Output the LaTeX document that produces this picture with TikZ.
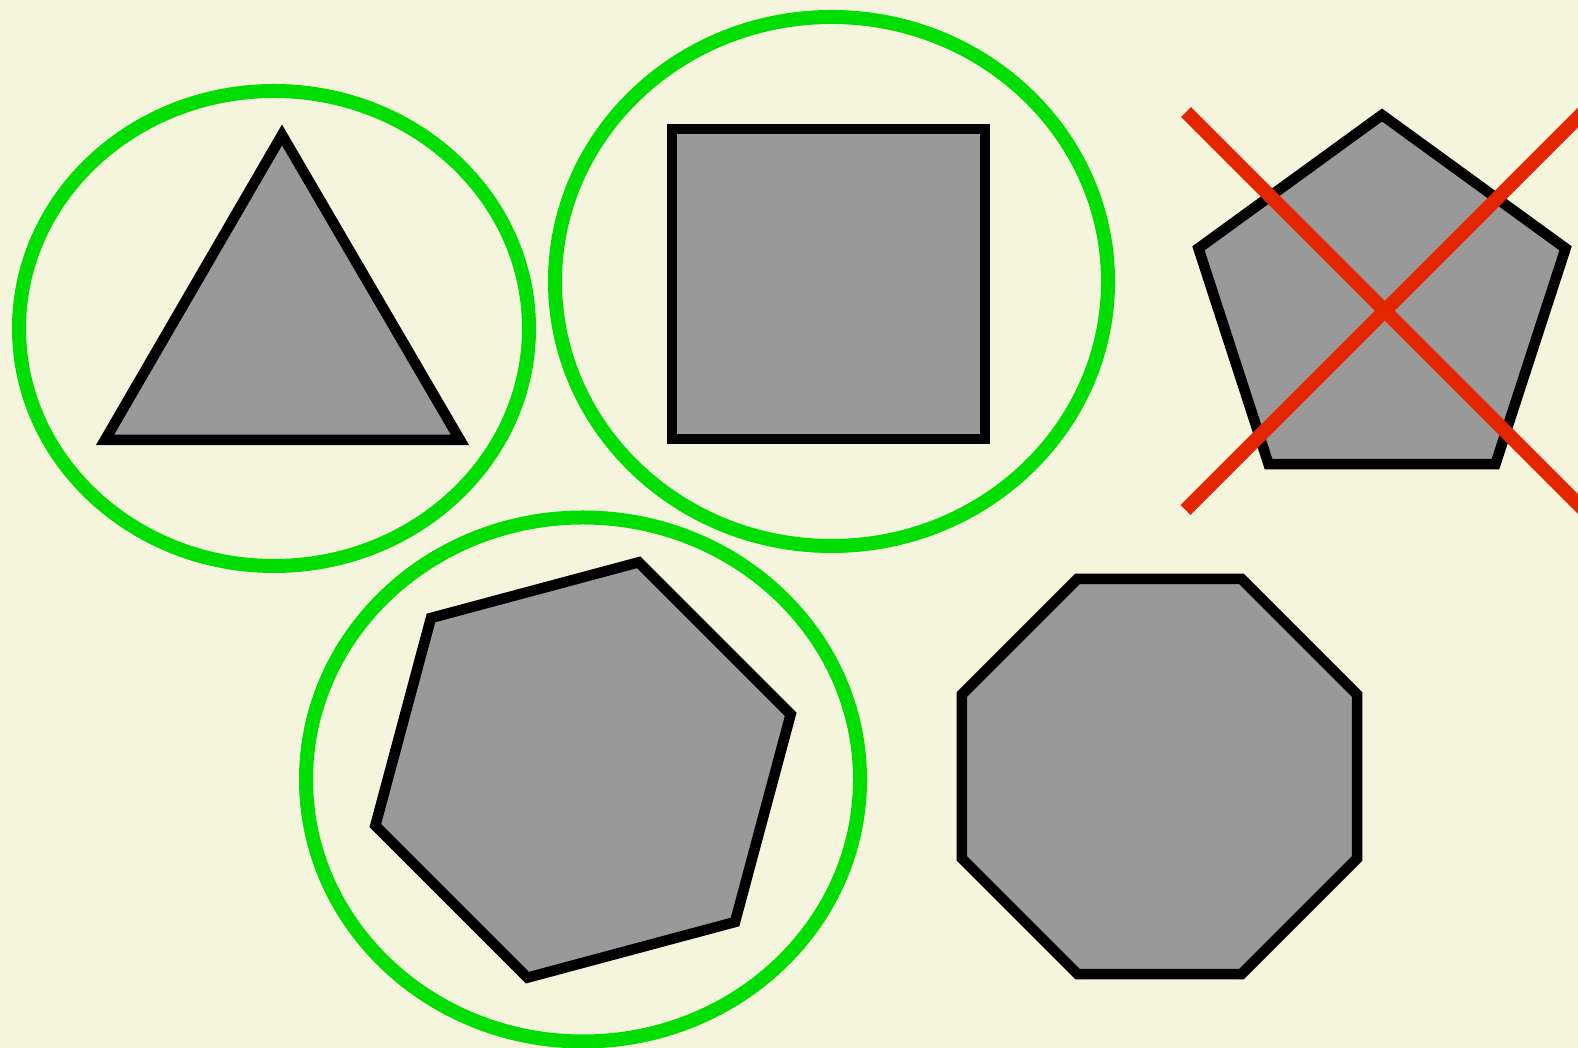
\documentclass[tikz,border=0pt]{standalone}
\usepackage{tikz}
\usetikzlibrary{calc}
\usepackage{xcolor}

\definecolor{paper}{RGB}{245,245,222}
\definecolor{shapegray}{RGB}{153,153,153}
\definecolor{okgreen}{RGB}{0,221,0}
\definecolor{nored}{RGB}{227,38,0}

\begin{document}
\begin{tikzpicture}[
    x=1pt, y=1pt,
    poly/.style={draw=black, fill=shapegray, line width=10.5pt, line join=miter},
    ring/.style={draw=okgreen, line width=14pt},
    cross/.style={draw=nored, line width=14pt, line cap=butt}
]

% Canvas
\fill[paper] (0,0) rectangle (1578,1048);
\clip (0,0) rectangle (1578,1048);

% Shapes
\draw[poly] (282,913) -- (105,608) -- (460,608) -- cycle;
\draw[poly] (672,919) rectangle (985,609);

\coordinate (pent) at (1382,740);
\draw[poly] ($(pent)+(90:193)$) \foreach \a in {162,234,306,18} { -- ($(pent)+(\a:193)$) } -- cycle;

\coordinate (hex) at (583,278);
\draw[poly] ($(hex)+(15:215)$) \foreach \a in {75,135,...,315} { -- ($(hex)+(\a:215)$) } -- cycle;

\coordinate (oct) at (1159.5,271.5);
\draw[poly] ($(oct)+(22.5:214)$) \foreach \a in {67.5,112.5,...,337.5} { -- ($(oct)+(\a:214)$) } -- cycle;

% Green rings
\draw[ring] (274,719.5) ellipse [x radius=255, y radius=237.5];
\draw[ring] (831.5,766.5) ellipse [x radius=276.5, y radius=264.5];
\draw[ring] (583,268.5) ellipse [x radius=277, y radius=262];

% Red cross over the pentagon
\coordinate (xa) at (1186,936);
\coordinate (xb) at (1600,522);
\coordinate (xc) at (1185.5,538);
\coordinate (xd) at (1600,952.5);
\draw[cross] (xa) -- (xb);
\draw[cross] (xc) -- (xd);

\end{tikzpicture}
\end{document}
